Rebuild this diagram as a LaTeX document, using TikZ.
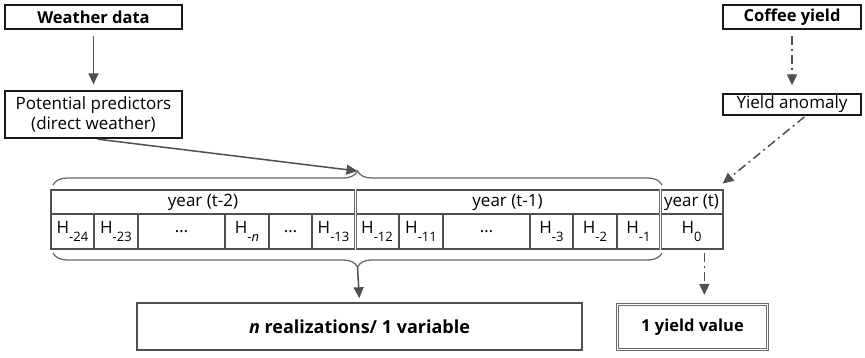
\documentclass[tikz,border=0pt]{standalone}
\usepackage{fontspec}
\setmainfont{Open Sans}
\usetikzlibrary{arrows.meta,positioning,decorations.pathreplacing,calc}
\definecolor{ink}{RGB}{25,25,25}
\definecolor{steel}{RGB}{80,80,80}
\definecolor{rule}{RGB}{105,105,105}
\newcommand{\hsub}[1]{H\raisebox{-0.8ex}{\fontsize{13}{14}\selectfont#1}}
\tikzset{
  >={Triangle[length=11pt,width=10pt]},
  box/.style={draw=ink,line width=1.3pt,inner sep=0pt,align=center,
    font=\fontsize{17}{20}\selectfont},
  head box/.style={box,font=\fontsize{16.5}{19}\selectfont\bfseries},
  cell/.style={draw=steel,line width=1.3pt,inner sep=0pt,
    font=\fontsize{17}{20}\selectfont},
  flow/.style={->,line width=1.5pt,draw=steel},
  dashflow/.style={flow,dash pattern=on 9pt off 4pt on 2pt off 4pt},
  curly/.style={decorate,decoration={brace,amplitude=14pt},draw=rule,line width=1.3pt},
  split/.style={draw=rule,line width=1pt,double,double distance=1pt},
}

\begin{document}
\begin{tikzpicture}[x=1pt,y=-1pt]
  \useasboundingbox (0,0) rectangle (865,358);
  % inputs
  \node[head box,minimum width=177pt,minimum height=24pt] (weather) at (93.5,17) {Weather data};
  \node[box,minimum width=177pt,minimum height=47pt] (pred) at (93.5,114.5) {Potential predictors\\(direct weather)};
  \node[head box,minimum width=138pt,minimum height=24pt] (coffee) at (792,17) {Coffee yield};
  \node[box,minimum width=138pt,minimum height=21pt] (anom) at (792,104.5) {Yield anomaly};
  % table
  \node[cell,minimum width=304pt,minimum height=24pt] (yr2) at (203,202) {year (t-2)};
  \node[cell,minimum width=305pt,minimum height=24pt] (yr1) at (507.5,202) {year (t-1)};
  \node[cell,minimum width=63pt,minimum height=24pt] (yr0) at (691.5,202) {year (t)};
  \foreach \a/\b/\t [count=\i] in {51/94/\hsub{-24},94/138/\hsub{-23},138/225/\dots,
      225/269/\hsub{-\textit{n}},269/312/\dots,312/355/\hsub{-13},355/399/\hsub{-12},
      399/443/\hsub{-11},443/530/\dots,530/573/\hsub{-3},573/617/\hsub{-2},
      617/660/\hsub{-1},660/723/\hsub{0}}
    \node[cell,minimum width={(\b-\a)*1pt},minimum height=35pt] (h\i) at ({(\a+\b)/2},231.5) {\t};
  \draw[split] (yr2.north east) -- (h6.south east);
  \draw[split] (yr1.north east) -- (h12.south east);
  % braces
  \coordinate (topl) at (53,185);
  \coordinate (topr) at (662,185);
  \coordinate (botl) at (53,253);
  \coordinate (botr) at (662,253);
  \draw[curly] (topl) -- (topr);
  \draw[curly] (botr) -- (botl);
  \coordinate (toptip) at (357.5,171);
  \coordinate (bottip) at (357.5,267);
  % outputs
  \node[head box,draw=steel,line width=1.6pt,minimum width=445pt,minimum height=47pt,
    font=\fontsize{18}{21}\selectfont\bfseries] (real) at (359.5,326.5) {\textit{n} realizations/ 1 variable};
  \node[head box,draw=rule,line width=1.1pt,double,double distance=1pt,minimum width=150pt,minimum height=45pt] (yval) at (692.5,327) {1 yield value};
  % connectors
  \draw[flow,shorten <=6pt,shorten >=6pt] (weather) -- (pred);
  \draw[flow,shorten <=4pt] (pred.south) -- (toptip);
  \draw[flow,shorten >=4pt] (bottip) -- (real.north);
  \draw[dashflow,shorten <=6pt,shorten >=8pt] (coffee) -- (anom);
  \draw[dashflow,shorten <=2pt,shorten >=9pt] ($(anom.south)!0.2!(anom.south east)$) -- ($(yr0.north)!0.75!(yr0.north east)$);
  \coordinate (hout) at ($(h13.south)!0.4!(h13.south east)$);
  \draw[dashflow,shorten <=3pt,shorten >=9pt] (hout) -- (hout |- yval.north);
\end{tikzpicture}
\end{document}
